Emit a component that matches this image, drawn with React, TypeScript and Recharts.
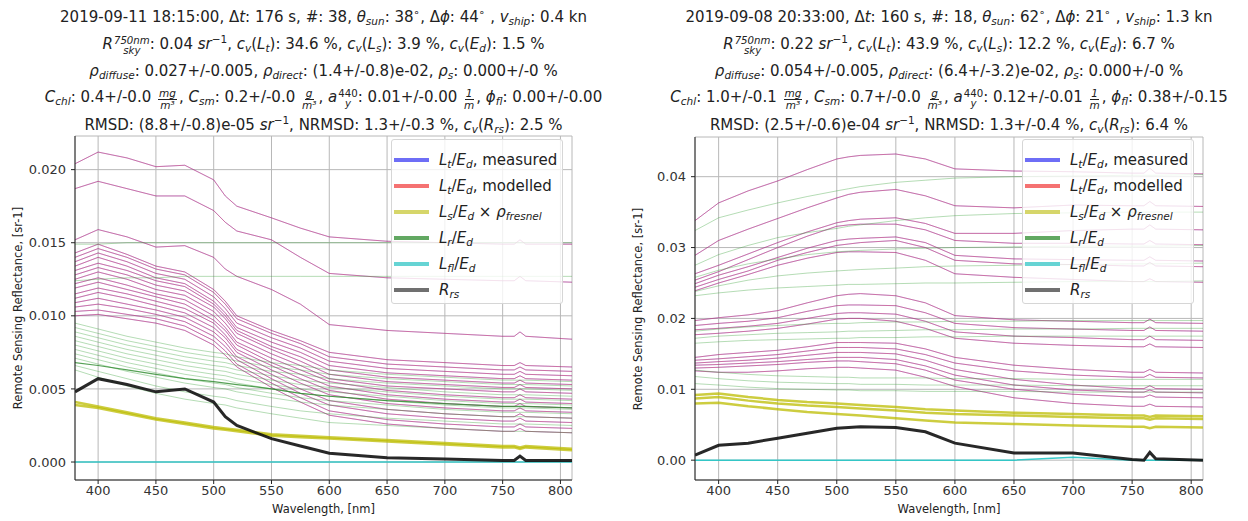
import React from "react";
import { LineChart, Line, XAxis, YAxis, CartesianGrid } from "recharts";

// sample wavelengths, nm (shared by every spectrum)
const wavelengths = [380, 400, 425, 450, 475, 500, 510, 520, 550, 575, 600, 650, 700, 750, 760, 765, 770, 810];
const xTicks = [400, 450, 500, 550, 600, 650, 700, 750, 800];

// ---- left panel: 2019-09-11 18:15
const leftLt = [
  [0.0204, 0.0212, 0.0208, 0.0202, 0.0203, 0.0193, 0.0182, 0.0175, 0.0167, 0.016, 0.0154, 0.0151, 0.015, 0.0149, 0.0149, 0.0152, 0.0149, 0.0149],
  [0.0187, 0.0192, 0.0187, 0.0182, 0.0182, 0.0172, 0.0164, 0.0158, 0.0152, 0.014, 0.0129, 0.0126, 0.0125, 0.0124, 0.0124, 0.0127, 0.0124, 0.0123],
  [0.0152, 0.0159, 0.0154, 0.0147, 0.0148, 0.014, 0.0132, 0.0127, 0.0118, 0.0108, 0.0094, 0.009, 0.0088, 0.0086, 0.0086, 0.0089, 0.0086, 0.0084],
  [0.0143, 0.0149, 0.0142, 0.0134, 0.013, 0.0118, 0.011, 0.01, 0.009, 0.0083, 0.0075, 0.007, 0.0068, 0.0066, 0.0066, 0.0068, 0.0066, 0.0065],
  [0.014, 0.0146, 0.014, 0.0132, 0.0128, 0.0116, 0.0108, 0.0098, 0.0088, 0.0081, 0.0072, 0.0067, 0.0065, 0.0063, 0.0063, 0.0065, 0.0063, 0.0062],
  [0.0137, 0.0143, 0.0137, 0.0129, 0.0125, 0.0113, 0.0105, 0.0095, 0.0085, 0.0078, 0.0069, 0.0064, 0.0062, 0.006, 0.006, 0.0062, 0.006, 0.0059],
  [0.0134, 0.014, 0.0134, 0.0126, 0.0122, 0.011, 0.0102, 0.0092, 0.0082, 0.0075, 0.0066, 0.0061, 0.0059, 0.0057, 0.0057, 0.0059, 0.0057, 0.0056],
  [0.0131, 0.0136, 0.0131, 0.0124, 0.012, 0.0108, 0.01, 0.009, 0.0079, 0.0072, 0.0063, 0.0058, 0.0056, 0.0054, 0.0054, 0.0056, 0.0054, 0.0053],
  [0.0128, 0.0133, 0.0128, 0.0121, 0.0117, 0.0106, 0.0098, 0.0088, 0.0077, 0.0069, 0.006, 0.0055, 0.0053, 0.0051, 0.0051, 0.0053, 0.0051, 0.005],
  [0.0125, 0.013, 0.0125, 0.0118, 0.0114, 0.0103, 0.0095, 0.0085, 0.0074, 0.0066, 0.0057, 0.0052, 0.005, 0.0048, 0.0048, 0.005, 0.0048, 0.0047],
  [0.0122, 0.0126, 0.0121, 0.0115, 0.0111, 0.01, 0.0092, 0.0082, 0.0071, 0.0063, 0.0055, 0.0049, 0.0046, 0.0044, 0.0044, 0.0046, 0.0044, 0.0043],
  [0.0119, 0.0123, 0.0118, 0.0113, 0.0108, 0.0097, 0.009, 0.008, 0.0068, 0.006, 0.0052, 0.0046, 0.0043, 0.0041, 0.0041, 0.0043, 0.0041, 0.004],
  [0.0115, 0.0119, 0.0115, 0.011, 0.0105, 0.0095, 0.0087, 0.0077, 0.0066, 0.0057, 0.0049, 0.0043, 0.004, 0.0038, 0.0038, 0.004, 0.0038, 0.0037],
  [0.0112, 0.0116, 0.0112, 0.0107, 0.0102, 0.0092, 0.0085, 0.0075, 0.0063, 0.0054, 0.0046, 0.004, 0.0037, 0.0035, 0.0035, 0.0037, 0.0035, 0.0034],
  [0.0109, 0.0112, 0.0108, 0.0104, 0.0099, 0.0089, 0.0082, 0.0072, 0.006, 0.005, 0.0042, 0.0036, 0.0033, 0.0031, 0.0031, 0.0033, 0.0031, 0.003],
  [0.0106, 0.0108, 0.0105, 0.0101, 0.0096, 0.0086, 0.0079, 0.007, 0.0057, 0.0047, 0.0039, 0.0033, 0.003, 0.0028, 0.0028, 0.003, 0.0028, 0.0027],
  [0.0103, 0.0104, 0.0101, 0.0098, 0.0093, 0.0083, 0.0076, 0.0067, 0.0054, 0.0044, 0.0035, 0.0029, 0.0026, 0.0024, 0.0024, 0.0026, 0.0024, 0.0023],
  [0.01, 0.0101, 0.0098, 0.0095, 0.009, 0.008, 0.0073, 0.0065, 0.0051, 0.0041, 0.0032, 0.0026, 0.0023, 0.0021, 0.0021, 0.0023, 0.0021, 0.002],
];
const leftLr = [
  [0.0149, 0.0149, 0.015, 0.015, 0.015, 0.015, 0.015, 0.015, 0.015, 0.015, 0.015, 0.015, 0.015, 0.015, 0.015, 0.015, 0.015, 0.015],
  [0.0124, 0.0125, 0.0126, 0.0126, 0.0127, 0.0127, 0.0127, 0.0127, 0.0127, 0.0127, 0.0127, 0.0127, 0.0127, 0.0127, 0.0127, 0.0127, 0.0127, 0.0127],
  [0.0095, 0.0091, 0.0086, 0.0082, 0.0078, 0.0075, 0.0074, 0.0072, 0.0068, 0.0066, 0.0063, 0.006, 0.0058, 0.0056, 0.0056, 0.0056, 0.0056, 0.0055],
  [0.0092, 0.0088, 0.0083, 0.0079, 0.0075, 0.0072, 0.0071, 0.0069, 0.0065, 0.0063, 0.006, 0.0057, 0.0055, 0.0053, 0.0053, 0.0053, 0.0053, 0.0052],
  [0.0089, 0.0085, 0.008, 0.0076, 0.0072, 0.0069, 0.0068, 0.0066, 0.0062, 0.006, 0.0057, 0.0054, 0.0052, 0.005, 0.005, 0.005, 0.005, 0.0049],
  [0.0086, 0.0082, 0.0077, 0.0073, 0.0069, 0.0066, 0.0065, 0.0063, 0.0059, 0.0056, 0.0054, 0.0051, 0.0048, 0.0046, 0.0046, 0.0046, 0.0046, 0.0045],
  [0.0083, 0.0079, 0.0074, 0.007, 0.0066, 0.0063, 0.0062, 0.006, 0.0056, 0.0053, 0.0051, 0.0048, 0.0045, 0.0043, 0.0043, 0.0043, 0.0043, 0.0042],
  [0.008, 0.0076, 0.0071, 0.0067, 0.0063, 0.006, 0.0059, 0.0057, 0.0053, 0.005, 0.0048, 0.0045, 0.0042, 0.004, 0.004, 0.004, 0.004, 0.0039],
  [0.0077, 0.0073, 0.0068, 0.0064, 0.006, 0.0057, 0.0056, 0.0054, 0.005, 0.0047, 0.0045, 0.0042, 0.0039, 0.0037, 0.0037, 0.0037, 0.0037, 0.0036],
  [0.0074, 0.007, 0.0065, 0.0061, 0.0057, 0.0054, 0.0053, 0.0051, 0.0047, 0.0044, 0.0042, 0.0039, 0.0036, 0.0034, 0.0034, 0.0034, 0.0034, 0.0033],
  [0.0071, 0.0067, 0.0062, 0.0058, 0.0054, 0.0051, 0.005, 0.0048, 0.0044, 0.0041, 0.0039, 0.0036, 0.0033, 0.0031, 0.0031, 0.0031, 0.0031, 0.003],
  [0.0066, 0.0062, 0.0057, 0.0052, 0.0048, 0.0045, 0.0044, 0.0042, 0.0038, 0.0035, 0.0033, 0.003, 0.0028, 0.0026, 0.0026, 0.0026, 0.0026, 0.0025],
  [0.0063, 0.0058, 0.0052, 0.0047, 0.0043, 0.004, 0.0039, 0.0037, 0.0033, 0.003, 0.0027, 0.0025, 0.0023, 0.0021, 0.0021, 0.0021, 0.0021, 0.002],
];
const leftLrStrong = [
  [0.0068, 0.0066, 0.0063, 0.006, 0.0057, 0.0055, 0.0054, 0.0053, 0.005, 0.0047, 0.0045, 0.0042, 0.004, 0.0038, 0.0038, 0.0038, 0.0038, 0.0037],
];
const leftLs = [
  [0.0041, 0.0038, 0.0034, 0.003, 0.0027, 0.0024, 0.0023, 0.0022, 0.0019, 0.0018, 0.0017, 0.0015, 0.0013, 0.0011, 0.0011, 0.001, 0.0011, 0.0009],
  [0.0039, 0.0037, 0.0033, 0.0029, 0.0026, 0.0023, 0.0022, 0.0021, 0.0018, 0.0017, 0.0016, 0.0014, 0.0012, 0.001, 0.001, 0.0009, 0.001, 0.0008],
];
const leftLfl = [[0, 0, 0, 0, 0, 0, 0, 0, 0, 0, 0, 0, 0, 0, 0, 0, 0, 0]];
const leftRrs = [
  [0.0048, 0.0057, 0.0053, 0.0048, 0.005, 0.0041, 0.0031, 0.0025, 0.0016, 0.0011, 0.0006, 0.0003, 0.0002, 0.0001, 0.0001, 0.0004, 0.0001, 0.0001],
];
const leftYTicks = [0, 0.005, 0.01, 0.015, 0.02];

// ---- right panel: 2019-09-08 20:33
const rightLt = [
  [0.0338, 0.0363, 0.038, 0.0394, 0.041, 0.0425, 0.0428, 0.043, 0.0432, 0.0425, 0.0411, 0.0408, 0.0407, 0.0405, 0.0405, 0.0412, 0.0405, 0.0404],
  [0.0289, 0.031, 0.0326, 0.0341, 0.0356, 0.037, 0.0375, 0.0378, 0.0382, 0.0373, 0.0359, 0.0356, 0.036, 0.0359, 0.0359, 0.0365, 0.0359, 0.0358],
  [0.0263, 0.0275, 0.0291, 0.0307, 0.0322, 0.0335, 0.0338, 0.034, 0.0342, 0.0334, 0.032, 0.032, 0.0324, 0.0326, 0.0326, 0.0332, 0.0326, 0.0325],
  [0.0254, 0.0266, 0.0283, 0.03, 0.0316, 0.033, 0.0332, 0.0333, 0.0333, 0.0325, 0.031, 0.0306, 0.0306, 0.0305, 0.0305, 0.031, 0.0305, 0.0304],
  [0.0249, 0.0261, 0.0273, 0.0286, 0.0299, 0.031, 0.0312, 0.0313, 0.0315, 0.0307, 0.0289, 0.0284, 0.0283, 0.0282, 0.0282, 0.0287, 0.0282, 0.0281],
  [0.0244, 0.0255, 0.0267, 0.0282, 0.0293, 0.0303, 0.0305, 0.0307, 0.031, 0.03, 0.0282, 0.0277, 0.0276, 0.0274, 0.0274, 0.0279, 0.0274, 0.0273],
  [0.0239, 0.025, 0.0262, 0.0275, 0.0285, 0.0293, 0.0294, 0.0294, 0.0293, 0.0282, 0.0263, 0.0258, 0.0255, 0.0252, 0.0252, 0.0256, 0.0252, 0.0251],
  [0.0197, 0.0201, 0.0205, 0.0211, 0.0222, 0.0232, 0.0234, 0.0235, 0.0232, 0.0222, 0.0204, 0.0198, 0.0196, 0.0194, 0.0194, 0.0199, 0.0194, 0.0193],
  [0.019, 0.0193, 0.0196, 0.0201, 0.021, 0.0218, 0.0219, 0.0219, 0.0218, 0.0208, 0.0193, 0.0187, 0.0185, 0.0183, 0.0183, 0.0188, 0.0183, 0.0182],
  [0.0184, 0.0186, 0.0189, 0.0193, 0.02, 0.0207, 0.0208, 0.0208, 0.0206, 0.0196, 0.0181, 0.0175, 0.0173, 0.017, 0.017, 0.0175, 0.017, 0.0169],
  [0.0177, 0.0179, 0.0182, 0.0186, 0.0192, 0.0199, 0.02, 0.02, 0.0196, 0.0186, 0.0172, 0.0165, 0.0162, 0.016, 0.016, 0.0164, 0.016, 0.0159],
  [0.0145, 0.0149, 0.0152, 0.0155, 0.016, 0.0166, 0.0166, 0.0166, 0.0165, 0.0157, 0.0145, 0.0134, 0.0128, 0.0124, 0.0124, 0.0128, 0.0124, 0.0123],
  [0.0141, 0.0143, 0.0146, 0.0149, 0.0154, 0.0159, 0.0159, 0.0159, 0.0157, 0.0149, 0.0137, 0.0126, 0.012, 0.0117, 0.0117, 0.0121, 0.0117, 0.0116],
  [0.0137, 0.0139, 0.0141, 0.0144, 0.0148, 0.0152, 0.0152, 0.0152, 0.015, 0.0141, 0.0128, 0.0114, 0.0106, 0.0101, 0.0101, 0.0105, 0.0101, 0.01],
  [0.0134, 0.0135, 0.0137, 0.0139, 0.0142, 0.0145, 0.0145, 0.0145, 0.0142, 0.0133, 0.012, 0.0106, 0.0099, 0.0096, 0.0096, 0.0099, 0.0096, 0.0095],
  [0.013, 0.0131, 0.0133, 0.0135, 0.0138, 0.014, 0.014, 0.0139, 0.0136, 0.0127, 0.0113, 0.01, 0.0093, 0.0089, 0.0089, 0.0092, 0.0089, 0.0088],
  [0.0126, 0.0124, 0.0124, 0.0126, 0.0129, 0.0131, 0.0131, 0.013, 0.0127, 0.0117, 0.0104, 0.0088, 0.008, 0.0076, 0.0076, 0.0079, 0.0076, 0.0075],
];
const rightLr = [
  [0.0324, 0.0342, 0.0353, 0.0363, 0.0372, 0.038, 0.0383, 0.0386, 0.0392, 0.0395, 0.0398, 0.04, 0.0401, 0.0402, 0.0402, 0.0402, 0.0402, 0.0403],
  [0.0275, 0.029, 0.0303, 0.0314, 0.0321, 0.0327, 0.033, 0.0332, 0.0338, 0.0342, 0.0345, 0.0348, 0.0349, 0.035, 0.035, 0.035, 0.035, 0.035],
  [0.0258, 0.0268, 0.0277, 0.0284, 0.029, 0.0294, 0.0295, 0.0296, 0.0298, 0.0299, 0.03, 0.0301, 0.0302, 0.0302, 0.0302, 0.0302, 0.0302, 0.0303],
  [0.0238, 0.0246, 0.0254, 0.026, 0.0264, 0.0267, 0.0268, 0.0269, 0.0271, 0.0273, 0.0274, 0.0275, 0.0276, 0.0277, 0.0277, 0.0277, 0.0277, 0.0278],
  [0.0232, 0.0236, 0.024, 0.0243, 0.0245, 0.0247, 0.0248, 0.0248, 0.0249, 0.025, 0.025, 0.0251, 0.0252, 0.0252, 0.0252, 0.0252, 0.0252, 0.0253],
  [0.0182, 0.0185, 0.0188, 0.019, 0.0192, 0.0193, 0.0193, 0.0194, 0.0195, 0.0195, 0.0196, 0.0196, 0.0197, 0.0197, 0.0197, 0.0197, 0.0197, 0.0197],
  [0.0172, 0.0175, 0.0177, 0.0179, 0.018, 0.0181, 0.0182, 0.0182, 0.0183, 0.0184, 0.0184, 0.0185, 0.0185, 0.0186, 0.0186, 0.0186, 0.0186, 0.0186],
  [0.0165, 0.0167, 0.0169, 0.017, 0.0171, 0.0172, 0.0172, 0.0173, 0.0173, 0.0174, 0.0174, 0.0175, 0.0175, 0.0175, 0.0175, 0.0175, 0.0175, 0.0175],
  [0.0127, 0.0124, 0.0121, 0.0119, 0.0118, 0.0117, 0.0117, 0.0116, 0.0116, 0.0116, 0.0115, 0.0115, 0.0114, 0.0114, 0.0114, 0.0114, 0.0114, 0.0114],
  [0.0118, 0.0115, 0.0112, 0.011, 0.0109, 0.0108, 0.0108, 0.0107, 0.0107, 0.0106, 0.0106, 0.0106, 0.0105, 0.0105, 0.0105, 0.0105, 0.0105, 0.0105],
  [0.0108, 0.0106, 0.0103, 0.0101, 0.01, 0.0099, 0.0099, 0.0098, 0.0098, 0.0097, 0.0097, 0.0097, 0.0096, 0.0096, 0.0096, 0.0096, 0.0096, 0.0096],
];
const rightLrStrong: number[][] = [];
const rightLs = [
  [0.0092, 0.0094, 0.0089, 0.0085, 0.0082, 0.008, 0.0079, 0.0078, 0.0075, 0.0072, 0.007, 0.0067, 0.0065, 0.0063, 0.0063, 0.0061, 0.0063, 0.0062],
  [0.0087, 0.0089, 0.0084, 0.008, 0.0077, 0.0075, 0.0074, 0.0073, 0.007, 0.0067, 0.0065, 0.0063, 0.0061, 0.0059, 0.0059, 0.0057, 0.0059, 0.0058],
  [0.008, 0.0081, 0.0076, 0.0072, 0.0068, 0.0065, 0.0064, 0.0063, 0.0059, 0.0056, 0.0053, 0.0051, 0.0049, 0.0047, 0.0047, 0.0045, 0.0047, 0.0046],
];
const rightLfl = [[0, 0, 0, 0, 0, 0, 0, 0, 0, 0, 0, 0, 0.0004, 0, 0, 0, 0, 0]];
const rightRrs = [
  [0.0007, 0.0021, 0.0024, 0.0031, 0.0038, 0.0045, 0.0046, 0.0047, 0.0046, 0.004, 0.0024, 0.001, 0.001, 0.0001, 0, 0.0011, 0.0002, 0],
];
const rightYTicks = [0, 0.01, 0.02, 0.03, 0.04];

const buildRows = (groups: Record<string, number[][]>) =>
  wavelengths.map((wl, i) => {
    const row: any = { wl };
    Object.entries(groups).forEach(([name, lines]) =>
      lines.forEach((vals, j) => {
        row[`${name}${j}`] = vals[i];
      })
    );
    return row;
  });

const Sub = ({ children }: any) => (
  <sub style={{ fontSize: "70%", verticalAlign: "-0.25em", lineHeight: 0 }}>{children}</sub>
);
const Sup = ({ children }: any) => (
  <sup style={{ fontSize: "70%", verticalAlign: "0.55em", lineHeight: 0 }}>{children}</sup>
);
// stacked super/subscript; inline-flex baseline is the first (upper) row
const SubSup = ({ sub, sup }: any) => (
  <span style={{ display: "inline-flex", flexDirection: "column", fontSize: "68%", lineHeight: 1, verticalAlign: "5px", marginLeft: 1 }}>
    <span>{sup}</span>
    <span>{sub}</span>
  </span>
);
const Frac = ({ n, d }: any) => (
  <span style={{ display: "inline-flex", flexDirection: "column", alignItems: "center", fontSize: "70%", lineHeight: 1.05, verticalAlign: "5px", margin: "0 2px" }}>
    <i style={{ borderBottom: "1px solid #222", padding: "0 1px" }}>{n}</i>
    <i>{d}</i>
  </span>
);

const legendItems = [
  { color: "#6e6ef6", label: <><i>L<Sub>t</Sub></i>/<i>E<Sub>d</Sub></i>, measured</> },
  { color: "#f57272", label: <><i>L<Sub>t</Sub></i>/<i>E<Sub>d</Sub></i>, modelled</> },
  { color: "#d6d66a", label: <><i>L<Sub>s</Sub></i>/<i>E<Sub>d</Sub></i> × <i>ρ<Sub>fresnel</Sub></i></> },
  { color: "#62a862", label: <><i>L<Sub>r</Sub></i>/<i>E<Sub>d</Sub></i></> },
  { color: "#66d4d4", label: <><i>L<Sub>fl</Sub></i>/<i>E<Sub>d</Sub></i></> },
  { color: "#707070", label: <><i>R<Sub>rs</Sub></i></> },
];

const Legend = ({ left }: { left: number }) => (
  <div
    style={{
      position: "absolute",
      left,
      top: 139,
      width: 172,
      height: 165,
      background: "rgba(255,255,255,0.8)",
      border: "1px solid #d6d6d6",
      borderRadius: 3,
      boxSizing: "border-box",
      paddingTop: 7,
    }}
  >
    {legendItems.map((item, i) => (
      <div key={i} style={{ display: "flex", alignItems: "center", height: 26, fontSize: 15, color: "#222" }}>
        <span style={{ width: 35, height: 4, background: item.color, margin: "0 10px 0 2px", flex: "none" }} />
        <span style={{ whiteSpace: "nowrap" }}>{item.label}</span>
      </div>
    ))}
  </div>
);

const titleTops = [7, 34, 61, 87, 115];

const Panel = ({ left, plotLeft, plotRight, top, groups, strong, yDomain, yTicks, fmt, titles }: any) => {
  const rows = buildRows(groups);
  const width = 624;
  const center = (plotLeft + plotRight) / 2;
  const common = { type: "linear" as const, dot: false, isAnimationActive: false, activeDot: false };
  return (
    <>
      {titles.map((t: any, i: number) => (
        <div
          key={i}
          style={{ position: "absolute", left: left + center - 400, width: 800, top: titleTops[i], textAlign: "center", fontSize: 15, whiteSpace: "nowrap", color: "#222", lineHeight: "20px" }}
        >
          {t}
        </div>
      ))}
      <div style={{ position: "absolute", left, top: 0 }}>
        <LineChart
          width={width}
          height={521}
          data={rows}
          margin={{ top, right: width - plotRight, bottom: 11, left: plotLeft - 50 }}
        >
          <CartesianGrid stroke="#b8b8b8" strokeWidth={1} />
          <XAxis
            dataKey="wl"
            type="number"
            domain={[380, 810]}
            ticks={xTicks}
            allowDataOverflow
            height={30}
            tick={{ fontSize: 13, fill: "#333" }}
            tickSize={4}
            tickLine={{ stroke: "#222" }}
            axisLine={{ stroke: "#222" }}
          />
          <XAxis xAxisId="top" orientation="top" dataKey="wl" type="number" domain={[380, 810]} height={0} tick={false} tickLine={false} axisLine={{ stroke: "#222" }} />
          <YAxis
            type="number"
            domain={yDomain}
            ticks={yTicks}
            allowDataOverflow
            width={50}
            tickFormatter={fmt}
            tick={{ fontSize: 13, fill: "#333" }}
            tickSize={4}
            tickMargin={5}
            tickLine={{ stroke: "#222" }}
            axisLine={{ stroke: "#222" }}
          />
          <YAxis yAxisId="right" orientation="right" type="number" domain={yDomain} width={0} tick={false} tickLine={false} axisLine={{ stroke: "#222" }} />
          {groups.lt.map((_: any, j: number) => (
            <Line key={`m${j}`} dataKey={`lt${j}`} stroke="#2b2bff" strokeOpacity={0.42} strokeWidth={1} {...common} />
          ))}
          {groups.lt.map((_: any, j: number) => (
            <Line key={`r${j}`} dataKey={`lt${j}`} stroke="#ff2b2b" strokeOpacity={0.42} strokeWidth={1} {...common} />
          ))}
          {groups.ls.map((_: any, j: number) => (
            <Line key={`s${j}`} dataKey={`ls${j}`} stroke="#bcbc00" strokeOpacity={0.75} strokeWidth={2.5} {...common} />
          ))}
          {groups.lr.map((_: any, j: number) => (
            <Line key={`g${j}`} dataKey={`lr${j}`} stroke="#2c9a2c" strokeOpacity={0.35} strokeWidth={1} {...common} />
          ))}
          {strong.map((_: any, j: number) => (
            <Line key={`gs${j}`} dataKey={`strong${j}`} stroke="#2c8a2c" strokeOpacity={0.8} strokeWidth={1.2} {...common} />
          ))}
          {groups.lfl.map((_: any, j: number) => (
            <Line key={`c${j}`} dataKey={`lfl${j}`} stroke="#22c4c4" strokeOpacity={0.9} strokeWidth={1.5} {...common} />
          ))}
          {groups.rrs.map((_: any, j: number) => (
            <Line key={`k${j}`} dataKey={`rrs${j}`} stroke="#111" strokeOpacity={0.9} strokeWidth={3} {...common} />
          ))}
        </LineChart>
      </div>
      <div
        style={{ position: "absolute", left: left + plotLeft - 57, top: (top + 480) / 2, transform: "translate(-50%, -50%) rotate(-90deg)", fontSize: 11.5, color: "#222", whiteSpace: "nowrap" }}
      >
        Remote Sensing Reflectance, [sr-1]
      </div>
      <div
        style={{ position: "absolute", left: left + center - 100, width: 200, top: 502, textAlign: "center", fontSize: 11.5, color: "#222" }}
      >
        Wavelength, [nm]
      </div>
      <Legend left={left + plotRight - 181} />
    </>
  );
};

const leftTitles = [
  <>2019-09-11 18:15:00, Δ<i>t</i>: 176 s, #: 38, <i>θ<Sub>sun</Sub></i>: 38<Sup>∘</Sup>, Δ<i>ϕ</i>: 44<Sup>∘</Sup> , <i>v<Sub>ship</Sub></i>: 0.4 kn</>,
  <><i>R</i><SubSup sub={<i>sky</i>} sup={<i>750nm</i>} />: 0.04 <i>sr</i><Sup>−1</Sup>, <i>c<Sub>v</Sub></i>(<i>L<Sub>t</Sub></i>): 34.6 %, <i>c<Sub>v</Sub></i>(<i>L<Sub>s</Sub></i>): 3.9 %, <i>c<Sub>v</Sub></i>(<i>E<Sub>d</Sub></i>): 1.5 %</>,
  <><i>ρ<Sub>diffuse</Sub></i>: 0.027+/-0.005, <i>ρ<Sub>direct</Sub></i>: (1.4+/-0.8)e-02, <i>ρ<Sub>s</Sub></i>: 0.000+/-0 %</>,
  <><i>C<Sub>chl</Sub></i>: 0.4+/-0.0 <Frac n="mg" d="m³" />, <i>C<Sub>sm</Sub></i>: 0.2+/-0.0 <Frac n="g" d="m³" />, <i>a</i><SubSup sub={<i>y</i>} sup="440" />: 0.01+/-0.00 <Frac n="1" d="m" />, <i>ϕ<Sub>fl</Sub></i>: 0.00+/-0.00</>,
  <>RMSD: (8.8+/-0.8)e-05 <i>sr</i><Sup>−1</Sup>, NRMSD: 1.3+/-0.3 %, <i>c<Sub>v</Sub></i>(<i>R<Sub>rs</Sub></i>): 2.5 %</>,
];

const rightTitles = [
  <>2019-09-08 20:33:00, Δ<i>t</i>: 160 s, #: 18, <i>θ<Sub>sun</Sub></i>: 62<Sup>∘</Sup>, Δ<i>ϕ</i>: 21<Sup>∘</Sup> , <i>v<Sub>ship</Sub></i>: 1.3 kn</>,
  <><i>R</i><SubSup sub={<i>sky</i>} sup={<i>750nm</i>} />: 0.22 <i>sr</i><Sup>−1</Sup>, <i>c<Sub>v</Sub></i>(<i>L<Sub>t</Sub></i>): 43.9 %, <i>c<Sub>v</Sub></i>(<i>L<Sub>s</Sub></i>): 12.2 %, <i>c<Sub>v</Sub></i>(<i>E<Sub>d</Sub></i>): 6.7 %</>,
  <><i>ρ<Sub>diffuse</Sub></i>: 0.054+/-0.005, <i>ρ<Sub>direct</Sub></i>: (6.4+/-3.2)e-02, <i>ρ<Sub>s</Sub></i>: 0.000+/-0 %</>,
  <><i>C<Sub>chl</Sub></i>: 1.0+/-0.1 <Frac n="mg" d="m³" />, <i>C<Sub>sm</Sub></i>: 0.7+/-0.0 <Frac n="g" d="m³" />, <i>a</i><SubSup sub={<i>y</i>} sup="440" />: 0.12+/-0.01 <Frac n="1" d="m" />, <i>ϕ<Sub>fl</Sub></i>: 0.38+/-0.15</>,
  <>RMSD: (2.5+/-0.6)e-04 <i>sr</i><Sup>−1</Sup>, NRMSD: 1.3+/-0.4 %, <i>c<Sub>v</Sub></i>(<i>R<Sub>rs</Sub></i>): 6.4 %</>,
];

const App = () => {
  const leftGroups = { lt: leftLt, lr: leftLr, strong: leftLrStrong, ls: leftLs, lfl: leftLfl, rrs: leftRrs };
  const rightGroups = { lt: rightLt, lr: rightLr, strong: rightLrStrong, ls: rightLs, lfl: rightLfl, rrs: rightRrs };
  return (
    <div
      style={{ position: "absolute", left: 0, top: 0, width: 1248, height: 521, background: "#fff", fontFamily: "'DejaVu Sans', sans-serif", overflow: "hidden" }}
    >
      <Panel
        left={0}
        plotLeft={75}
        plotRight={572}
        top={136}
        groups={leftGroups}
        strong={leftLrStrong}
        yDomain={[-0.00123, 0.0223]}
        yTicks={leftYTicks}
        fmt={(v: number) => v.toFixed(3)}
        titles={leftTitles}
      />
      <Panel
        left={624}
        plotLeft={71}
        plotRight={579}
        top={137}
        groups={rightGroups}
        strong={rightLrStrong}
        yDomain={[-0.0028, 0.0456]}
        yTicks={rightYTicks}
        fmt={(v: number) => v.toFixed(2)}
        titles={rightTitles}
      />
    </div>
  );
};

export default App;
